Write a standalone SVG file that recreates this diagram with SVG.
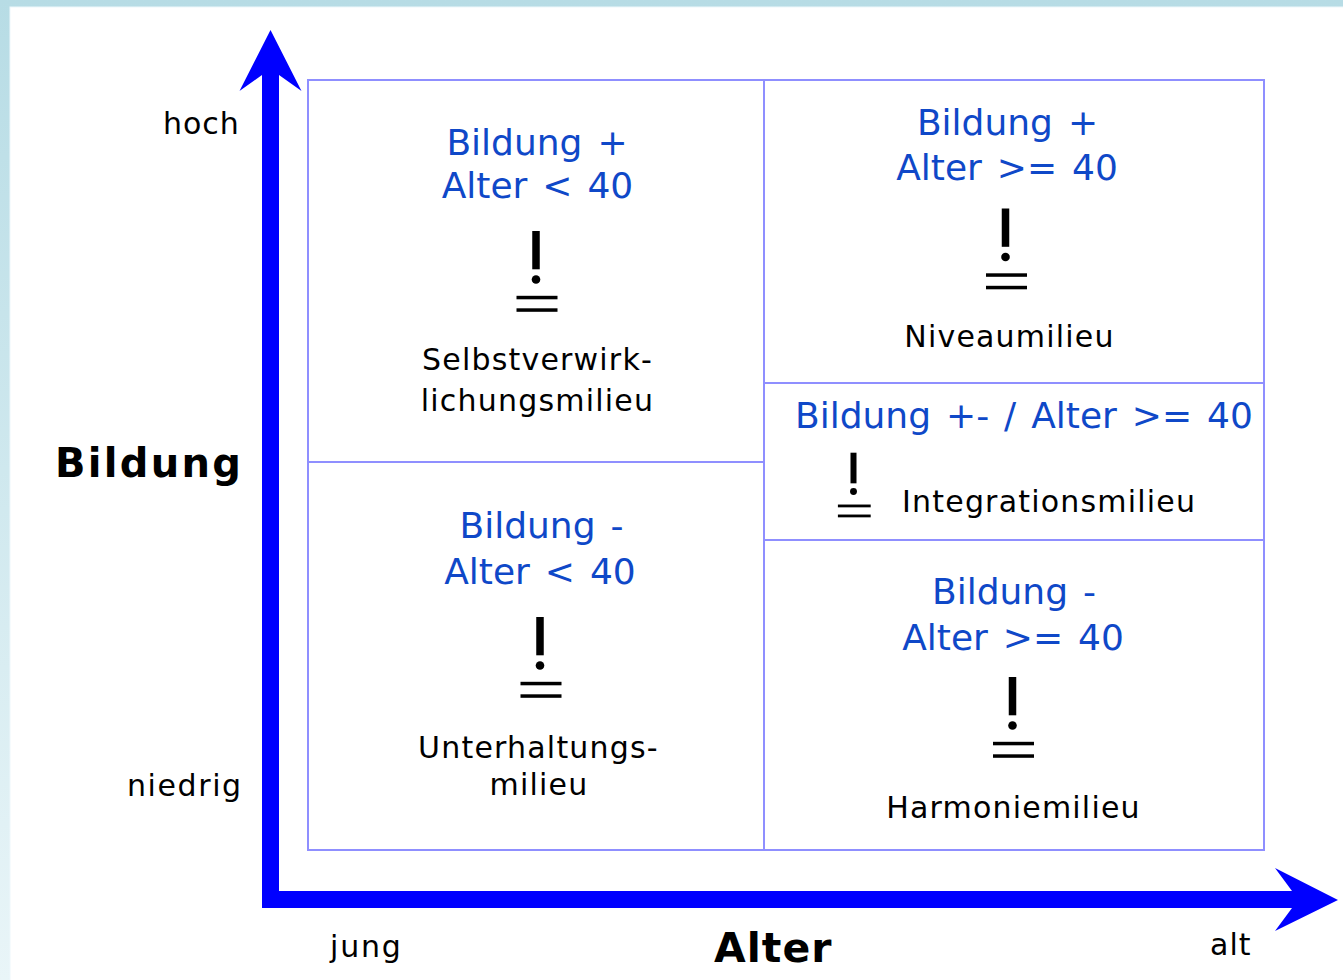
<svg xmlns="http://www.w3.org/2000/svg" width="1343" height="980" viewBox="0 0 1343 980">
  <defs>
    <linearGradient id="bgGrad" x1="0" y1="0" x2="0" y2="1">
      <stop offset="0" stop-color="#b7dce5"/>
      <stop offset="1" stop-color="#e9f5f8"/>
    </linearGradient>
    <g id="defSym">
      <rect x="-3.75" y="0" width="7.5" height="38.3" fill="#000"/>
      <circle cx="0" cy="48.5" r="4.3" fill="#000"/>
      <rect x="-19.5" y="64.8" width="41" height="3.5" fill="#000"/>
      <rect x="-19.5" y="77.3" width="41" height="3.5" fill="#000"/>
    </g>
  </defs>
  <style>
    .cell { fill: #ffffff; stroke: #8f8fff; stroke-width: 2; }
    .blue { font-family: "DejaVu Sans", "Liberation Sans", sans-serif; font-size: 36px; word-spacing: 3.5px; fill: #0f48c8; text-anchor: middle; }
    .lbl { font-family: "DejaVu Sans", "Liberation Sans", sans-serif; font-size: 30px; letter-spacing: 1.2px; fill: #000; text-anchor: middle; }
    .ax { font-family: "DejaVu Sans", "Liberation Sans", sans-serif; font-size: 30px; letter-spacing: 1px; fill: #000; }
    .axb { font-family: "DejaVu Sans", "Liberation Sans", sans-serif; font-size: 40px; font-weight: bold; fill: #000; }
    .axis { fill: #0000ff; }
  </style>

  <g id="background">
    <rect x="0" y="0" width="1343" height="980" fill="url(#bgGrad)"/>
    <rect x="10" y="7" width="1340" height="980" fill="#ffffff" stroke="#eef8fb" stroke-width="1"/>
  </g>

  <g id="connectors">
    <path class="axis" d="M270.5,30 L301.5,91 L279,75 L279,891 L1292,891 L1275,868 L1338,900 L1275,931 L1292,908 L262,908 L262,75 L239.5,91 Z"/>
  </g>

  <g id="cell-selbstverwirklichung">
    <rect class="cell" x="308" y="80" width="456" height="382"/>
    <text class="blue" x="537" y="155">Bildung +</text>
    <text class="blue" x="537.5" y="198">Alter &lt; 40</text>
    <use href="#defSym" transform="translate(536,231)"/>
    <text class="lbl" x="537.5" y="370">Selbstverwirk-</text>
    <text class="lbl" x="537.5" y="411">lichungsmilieu</text>
  </g>

  <g id="cell-unterhaltung">
    <rect class="cell" x="308" y="462" width="456" height="388"/>
    <text class="blue" x="541.5" y="538">Bildung -</text>
    <text class="blue" x="540" y="584">Alter &lt; 40</text>
    <use href="#defSym" transform="translate(540,617)"/>
    <text class="lbl" x="538.5" y="758">Unterhaltungs-</text>
    <text class="lbl" x="539" y="795">milieu</text>
  </g>

  <g id="cell-niveau">
    <rect class="cell" x="764" y="80" width="500" height="303"/>
    <text class="blue" x="1007.5" y="135">Bildung +</text>
    <text class="blue" x="1007" y="180">Alter &gt;= 40</text>
    <use href="#defSym" transform="translate(1005.5,208.5)"/>
    <text class="lbl" x="1009.5" y="347">Niveaumilieu</text>
  </g>

  <g id="cell-integration">
    <rect class="cell" x="764" y="383" width="500" height="157"/>
    <text class="blue" x="795" y="428" style="text-anchor:start">Bildung +- / Alter &gt;= 40</text>
    <use href="#defSym" transform="translate(853.5,452.7) scale(0.8)"/>
    <text class="lbl" x="902" y="512" style="text-anchor:start">Integrationsmilieu</text>
  </g>

  <g id="cell-harmonie">
    <rect class="cell" x="764" y="540" width="500" height="310"/>
    <text class="blue" x="1014" y="604">Bildung -</text>
    <text class="blue" x="1013" y="650">Alter &gt;= 40</text>
    <use href="#defSym" transform="translate(1012.5,677)"/>
    <text class="lbl" x="1013.5" y="818">Harmoniemilieu</text>
  </g>

  <g id="axis-labels">
    <text class="ax" x="163" y="134">hoch</text>
    <text class="ax" x="127" y="796" style="letter-spacing:1.6px">niedrig</text>
    <text class="axb" x="55" y="477" style="letter-spacing:2.3px">Bildung</text>
    <text class="ax" x="330" y="957" style="letter-spacing:1.8px">jung</text>
    <text class="axb" x="714" y="962" style="font-size:41px;letter-spacing:1px">Alter</text>
    <text class="ax" x="1210" y="955">alt</text>
  </g>
</svg>
